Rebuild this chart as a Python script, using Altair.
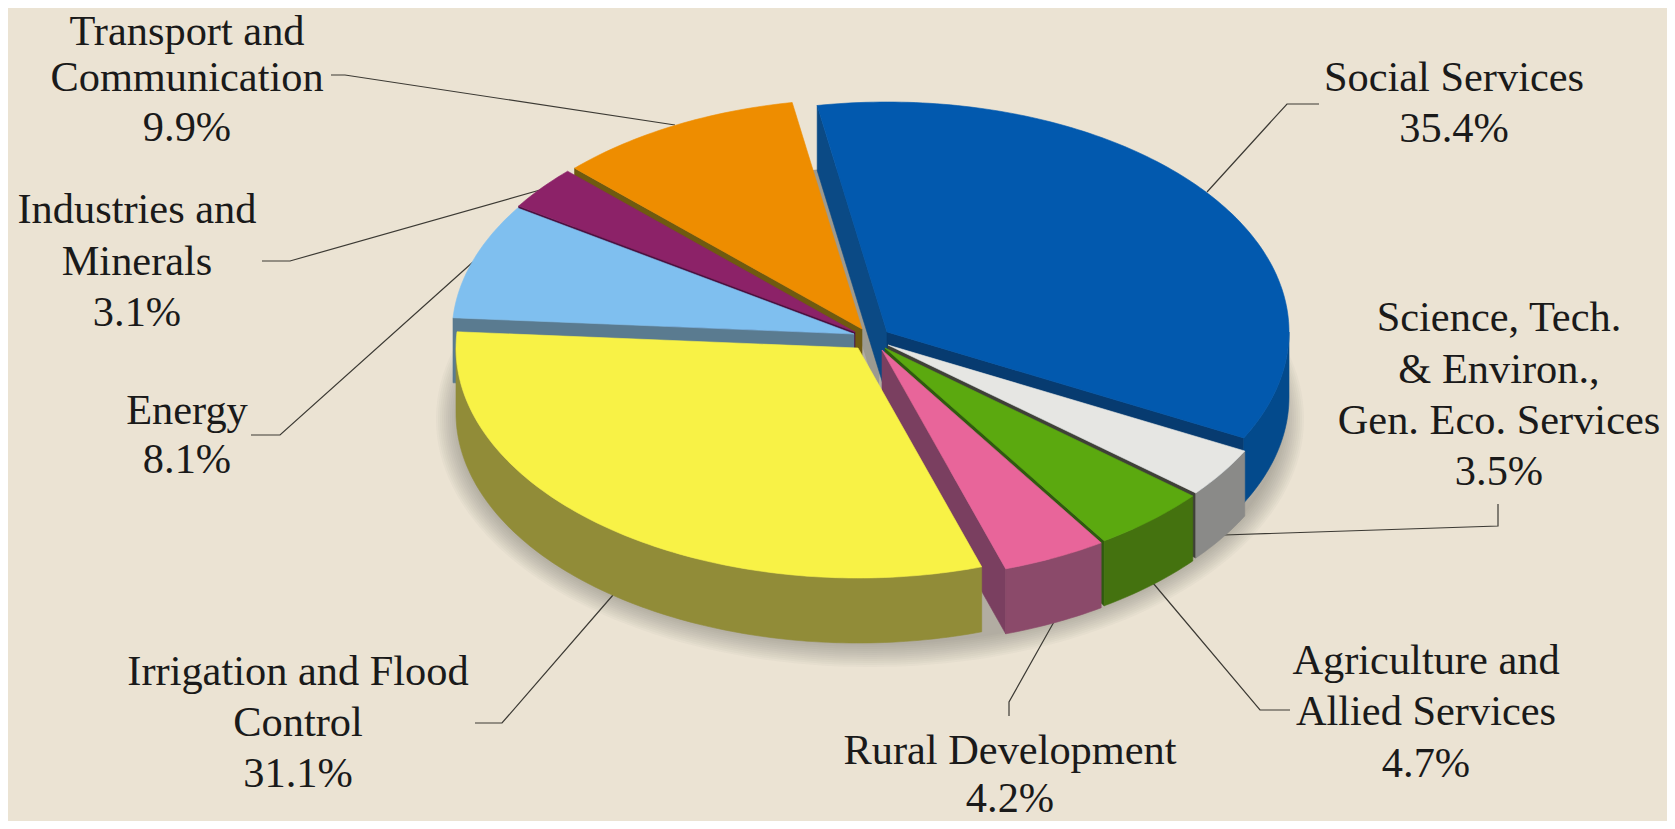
import math
import altair as alt

# ---- data ----
sectors = ["Social Services", "Science, Tech. & Environ., Gen. Eco. Services",
           "Agriculture and Allied Services", "Rural Development",
           "Irrigation and Flood Control", "Energy", "Industries and Minerals",
           "Transport and Communication"]
shares = [35.4, 3.5, 4.7, 4.2, 31.1, 8.1, 3.1, 9.9]

label_text = ["Transport and", "Communication", "9.9%",
              "Social Services", "35.4%",
              "Industries and", "Minerals", "3.1%",
              "Energy", "8.1%",
              "Science, Tech.", "& Environ.,", "Gen. Eco. Services", "3.5%",
              "Irrigation and Flood", "Control", "31.1%",
              "Rural Development", "4.2%",
              "Agriculture and", "Allied Services", "4.7%"]

# ---- layout & style (reference pixel coordinates) ----
label_x = [187, 187, 187, 1454, 1454, 137, 137, 137, 187, 187,
           1499, 1499, 1499, 1499, 298, 298, 298, 1010, 1010, 1426, 1426, 1426]
label_y = [32, 78, 128, 78, 129, 210, 262, 313, 411, 460,
           318, 370, 421, 472, 672, 723, 774, 751, 799, 661, 712, 764]

leaders = [
    [(331, 75), (345, 75), (675, 125)],
    [(262, 261), (290, 261), (540, 190)],
    [(251, 435), (280, 435), (473, 262)],
    [(1319, 104), (1287, 104), (1207, 192)],
    [(1498, 504), (1498, 526), (1224, 535)],
    [(1153, 583), (1260, 710), (1290, 710)],
    [(1055, 620), (1009, 702), (1009, 716)],
    [(613, 595), (502, 723), (475, 723)],
]

apex = [(887, 332), (888, 345), (885, 348), (882, 350),
        (858, 348), (854, 334), (855, 332), (862, 329)]
top_col = ["#0259AE", "#E6E6E3", "#5BA90F", "#E8659A", "#F8F246", "#7FBFEF", "#8C2268", "#EE8D00"]
wall_col = ["#034A8C", "#8A8A88", "#44720F", "#8B4A6A", "#918C38", "#5A7B90", "#4A1040", "#6F5A10"]
start_col = ["#0B4A85", "#3F4038", "#2F5A10", "#7A3F60", "#918C38", "#5A7B90", "#4A1040", "#6F5A10"]
end_col = ["#073B70", "#3F4038", "#2F5A10", "#7A3F60", "#918C38", "#5A7B90", "#4A1040", "#6F5A10"]
paint_order = [7, 6, 5, 0, 1, 2, 3, 4]

RX, RY, DEPTH = 402, 230, 65
START = -10.0
BG = "#EBE3D3"
W, H = 1659, 813


def edge(c, deg, dy=0):
    t = math.radians(deg)
    return (c[0] + RX * math.sin(t), c[1] - RY * math.cos(t) + dy)


def arc(c, a, b, dy=0):
    n = max(2, int(abs(b - a)) + 1)
    return [edge(c, a + (b - a) * i / (n - 1), dy) for i in range(n)]


def feature(points, fill):
    ring = [list(p) for p in points] + [list(points[0])]
    return {"type": "Feature", "properties": {"fill": fill},
            "geometry": {"type": "Polygon", "coordinates": [ring]}}


spans, a = [], START
for s in shares:
    b = a + s * 3.6
    spans.append((a, b))
    a = b

faces = []
for i in paint_order:
    c = apex[i]
    a0, a1 = spans[i]
    low = (c[0], c[1] + DEPTH)
    if math.sin(math.radians(a0)) < 0:   # start face looks at the viewer
        p = edge(c, a0)
        faces.append(feature([c, p, (p[0], p[1] + DEPTH), low], start_col[i]))
    if math.sin(math.radians(a1)) > 0:   # end face looks at the viewer
        p = edge(c, a1)
        faces.append(feature([c, p, (p[0], p[1] + DEPTH), low], end_col[i]))
    f0, f1 = max(a0, 90), min(a1, 270)
    if f1 > f0:
        faces.append(feature(arc(c, f0, f1) + arc(c, f1, f0, DEPTH), wall_col[i]))
    faces.append(feature([c] + arc(c, a0, a1), top_col[i]))

# soft drop shadow: stacked translucent ellipses
shadow = []
for step in range(12):
    grow = 22 - step * 2
    pts = [(870 + (412 + grow) * math.sin(math.radians(d)),
            419 - (226 + grow) * math.cos(math.radians(d))) for d in range(0, 360, 2)]
    shadow.append(feature(pts, "#5F5C55"))

# grey sliver of ground shadow left of the blue slice's inner wall
a0, a1 = spans[0]
c0 = (apex[0][0] - 9, apex[0][1] + DEPTH)
ground = [feature([c0] + arc(c0, a0, a0 + 12), "#9C9A90")]

proj = dict(type="identity", scale=1, translate=[-8, -8])
x_enc = alt.X("x:Q", scale=alt.Scale(domain=[8, 8 + W], range=[0, W], nice=False, zero=False), axis=None)
y_enc = alt.Y("y:Q", scale=alt.Scale(domain=[8, 8 + H], range=[0, H], nice=False, zero=False), axis=None)

shadow_layer = alt.Chart(alt.InlineData(values=shadow)).mark_geoshape(
    fill="#5F5C55", fillOpacity=0.035, strokeWidth=0).project(**proj)

line_rows = [{"x": p[0], "y": p[1], "id": n, "o": j}
             for n, pts in enumerate(leaders) for j, p in enumerate(pts)]
line_layer = alt.Chart(alt.InlineData(values=line_rows)).mark_line(
    color="#3C3A34", strokeWidth=1.2).encode(
    x=x_enc, y=y_enc, detail="id:N", order="o:Q")

ground_layer = alt.Chart(alt.InlineData(values=ground)).mark_geoshape(
    strokeWidth=0).encode(fill=alt.Fill("properties.fill:N", scale=None)).project(**proj)

pie_layer = alt.Chart(alt.InlineData(values=faces)).mark_geoshape(strokeWidth=0.6).encode(
    fill=alt.Fill("properties.fill:N", scale=None),
    stroke=alt.Stroke("properties.fill:N", scale=None)).project(**proj)

text_rows = [{"x": x, "y": y, "t": t} for x, y, t in zip(label_x, label_y, label_text)]
text_layer = alt.Chart(alt.InlineData(values=text_rows)).mark_text(
    font="Liberation Serif", fontSize=42.4, color="#1A1A1A", align="center", baseline="middle").encode(
    x=x_enc, y=y_enc, text="t:N")

chart = alt.layer(shadow_layer, line_layer, ground_layer, pie_layer, text_layer).properties(
    width=W, height=H, background=BG, padding=0,
    autosize=alt.AutoSizeParams(type="none")
).configure_view(stroke=None)

chart.save("out.html", embed_options={"renderer": "svg", "actions": False})
